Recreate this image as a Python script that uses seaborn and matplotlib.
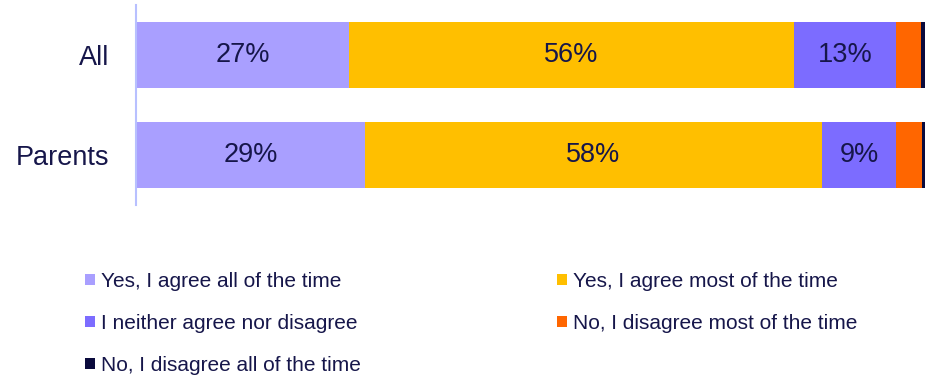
import matplotlib
matplotlib.use("Agg")
import matplotlib.pyplot as plt
from matplotlib.patches import Patch
import numpy as np
import pandas as pd
import seaborn as sns

groups = ["All", "Parents"]
responses = [
    "Yes, I agree all of the time",
    "Yes, I agree most of the time",
    "I neither agree nor disagree",
    "No, I disagree most of the time",
    "No, I disagree all of the time",
]
agree_all = [27.0, 29.0]
agree_most = [56.4, 58.0]
neither = [13.0, 9.4]
disagree_most = [3.1, 3.3]
disagree_all = [0.5, 0.3]

colors = ["#a99fff", "#ffbf00", "#7c6cff", "#ff6600", "#0a0a3c"]
text_color = "#16164a"

sns.set_theme(style="white")
plt.rcParams["font.family"] = ["Liberation Sans", "DejaVu Sans"]

series = [agree_all, agree_most, neither, disagree_most, disagree_all]
cum = np.cumsum(np.array(series), axis=0)

fig = plt.figure(figsize=(9.28, 3.76), dpi=100)
ax = fig.add_axes([136 / 928, 1 - 205 / 376, 788.7 / 928, 200 / 376])

# stacked bars: draw running totals from the outermost segment inward
for i in range(len(series) - 1, -1, -1):
    df = pd.DataFrame({"group": groups, "value": cum[i]})
    sns.barplot(data=df, x="value", y="group", orient="h", color=colors[i],
                width=0.66, saturation=1, ax=ax, linewidth=0, edgecolor="none")

# value labels on the three main segments
for i in range(3):
    for j, g in enumerate(groups):
        start = cum[i][j] - series[i][j]
        ax.text(start + series[i][j] / 2, j, f"{series[i][j]:.0f}%",
                ha="center", va="center", fontsize=19.5, color=text_color)

ax.set_xlim(0, 100)
ax.set_ylim(1.5, -0.5)
ax.set_xlabel("")
ax.set_ylabel("")
ax.set_xticks([])
ax.tick_params(axis="y", length=0, pad=19, labelsize=19.5, labelcolor=text_color)
for s in ["top", "right", "bottom"]:
    ax.spines[s].set_visible(False)
ax.spines["left"].set_color("#b8c0ff")
ax.spines["left"].set_linewidth(1.5)

order = [0, 2, 4, 1, 3]
handles = [Patch(facecolor=colors[k], edgecolor="none", label=responses[k]) for k in order]
leg = fig.legend(handles=handles, ncol=2, loc="upper left",
                 bbox_to_anchor=(85 / 928, 1 - 272 / 376), frameon=False,
                 fontsize=15, handlelength=0.48, handleheight=0.48,
                 handletextpad=0.3, labelspacing=1.1, columnspacing=9.4,
                 borderpad=0, borderaxespad=0)
for t in leg.get_texts():
    t.set_color(text_color)

fig.savefig("out.png", dpi=100)
